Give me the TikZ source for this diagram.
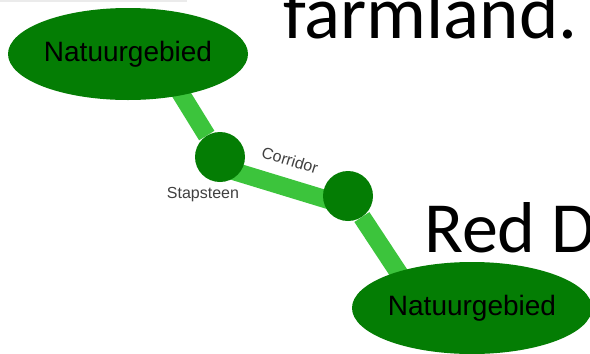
\documentclass[tikz,border=0pt]{standalone}
\usepackage{fontspec}
\setmainfont{Liberation Sans}
\newfontfamily\slidefont{Carlito}
\usetikzlibrary{shapes.geometric,backgrounds,calc}
\definecolor{areagreen}{RGB}{4,125,4}
\definecolor{bandgreen}{RGB}{60,196,60}
\begin{document}
\begin{tikzpicture}[x=1pt,y=-1pt,
    area/.style={ellipse,fill=areagreen,inner sep=0pt,minimum width=240pt,minimum height=92pt,font=\fontsize{28}{30}\selectfont},
    stone/.style={circle,fill=areagreen,minimum size=50pt,inner sep=0pt},
    band/.style={draw=bandgreen,line width=18pt},
    tag/.style={text=black!75,font=\fontsize{16}{18}\selectfont},
    slide/.style={anchor=base west,inner sep=0pt,font=\slidefont\fontsize{#1}{#1}\selectfont}]
    \useasboundingbox (0,0) rectangle (590,354);
    \fill[black!8] (0,0) rectangle (187,2);
    \node[area] (N1) at (128,54) {Natuurgebied};
    \node[area] (N2) at (472,308) {Natuurgebied};
    \node[stone] (S1) at (220,157) {};
    \node[stone] (S2) at (348,196) {};
    \coordinate (T1) at (170,76);
    \coordinate (B2) at (410,290);
    \begin{scope}[on background layer]
        \draw[band] (T1) to (S1);
        \draw[band] ($(S1)+(0,10)$) to ($(S2)+(0,10)$);
        \draw[band] (S2) to (B2);
    \end{scope}
    \node[tag] (L1) at (203,195) {Stapsteen};
    \node[tag,rotate=-17] (L2) at (290,160) {Corridor};
    \node[slide=75] (F) at (283,38) {farmland.};
    \node[slide=72] (R) at (424,252) {Red D};
\end{tikzpicture}
\end{document}
